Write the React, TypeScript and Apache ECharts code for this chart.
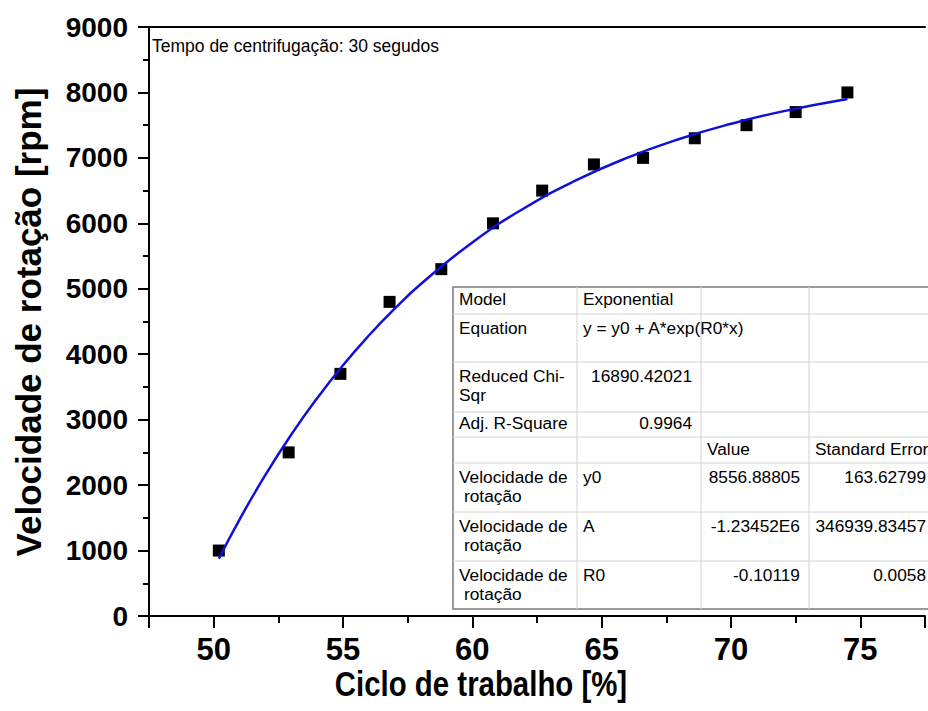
import React, { useEffect, useRef } from "react";
import * as echarts from "echarts";

// measured points
const dutyCycle = [50.2, 52.9, 54.9, 56.8, 58.8, 60.8, 62.7, 64.7, 66.6, 68.6, 70.6, 72.5, 74.5];
const speedRpm = [1000, 2500, 3700, 4800, 5300, 6000, 6500, 6900, 7000, 7300, 7500, 7700, 8000];

// fitted curve
const fitX = [50.2, 51, 52, 53, 54, 55, 56, 57, 58, 60, 62, 64, 66, 68, 70, 72, 74.5];
const fitY = [876, 1474, 2156, 2772, 3328, 3832, 4286, 4697, 5069, 5708, 6230, 6656, 7004, 7289, 7521, 7711, 7900];

// fit table
const tableCol1 = ["Model", "Equation", "Reduced Chi-\nSqr", "Adj. R-Square", "", "Velocidade de\n rotação", "Velocidade de\n rotação", "Velocidade de\n rotação"];
const tableCol2 = ["Exponential", "y = y0 + A*exp(R0*x)", "16890.42021", "0.9964", "", "y0", "A", "R0"];
const tableCol3 = ["", "", "", "", "Value", "8556.88805", "-1.23452E6", "-0.10119"];
const tableCol4 = ["", "", "", "", "Standard Error", "163.62799", "346939.83457", "0.0058"];

const titleText = "Tempo de centrifugação: 30 segudos";
const xName = "Ciclo de trabalho [%]";
const yName = "Velocidade de rotação [rpm]";

const FONT = "Arial, 'Liberation Sans', Helvetica, sans-serif";

function buildTable(): any[] {
  const rowsY = [287, 314, 362, 412, 437, 463, 512, 561, 609];
  const colsX = [453, 577, 701, 809, 935];
  const cols = [tableCol1, tableCol2, tableCol3, tableCol4];
  const els: any[] = [];
  els.push({
    type: "rect",
    shape: { x: colsX[0], y: rowsY[0], width: colsX[4] - colsX[0], height: rowsY[8] - rowsY[0] },
    style: { fill: "#fff", stroke: "#7a7a7a", lineWidth: 1.5 },
    z: 100,
  });
  for (let i = 1; i < rowsY.length - 1; i++) {
    els.push({
      type: "line",
      shape: { x1: colsX[0], y1: rowsY[i], x2: colsX[4], y2: rowsY[i] },
      style: { stroke: "#d4d4d4", lineWidth: 1 },
      z: 101,
    });
  }
  for (let j = 1; j < colsX.length - 1; j++) {
    els.push({
      type: "line",
      shape: { x1: colsX[j], y1: rowsY[0], x2: colsX[j], y2: rowsY[8] },
      style: { stroke: "#d4d4d4", lineWidth: 1 },
      z: 101,
    });
  }
  const numRe = /^-?[\d.]+(E\d+)?$/;
  for (let r = 0; r < rowsY.length - 1; r++) {
    const top = rowsY[r];
    const h = rowsY[r + 1] - top;
    const firstMid = h < 30 ? top + h / 2 - 1.5 : top + 13.5;
    for (let c = 0; c < 4; c++) {
      const txt = cols[c][r];
      if (!txt) continue;
      const right = numRe.test(txt);
      const lines = txt.split("\n");
      lines.forEach((ln, k) => {
        let x = right ? colsX[c + 1] - 9 : colsX[c] + 6;
        let s = ln;
        if (s.startsWith(" ")) {
          x += 5;
          s = s.trim();
        }
        els.push({
          type: "text",
          x,
          y: firstMid + k * 19.5,
          z: 102,
          style: {
            text: s,
            fill: "#000",
            font: `17.3px ${FONT}`,
            textAlign: right ? "right" : "left",
            textVerticalAlign: "middle",
          },
        });
      });
    }
  }
  return els;
}

export default function App() {
  const ref = useRef<HTMLDivElement>(null);
  useEffect(() => {
    if (!ref.current) return;
    const chart = echarts.init(ref.current, null, { renderer: "svg" });
    const scatterData = dutyCycle.map((x, i) => [x, speedRpm[i]]);
    const fitData = fitX.map((x, i) => [x, fitY[i]]);
    chart.setOption({
      animation: false,
      backgroundColor: "#fff",
      grid: { left: 149, top: 27, width: 792, height: 589, containLabel: false },
      xAxis: [
        {
          type: "value",
          min: 47.5,
          max: 77.5,
          splitNumber: 6,
          position: "bottom",
          axisLine: { show: true, onZero: false, lineStyle: { color: "#000", width: 2 } },
          axisTick: { show: true, inside: false, length: 12, lineStyle: { color: "#000", width: 2 } },
          minorTick: { show: true, splitNumber: 2, length: 7, lineStyle: { color: "#000", width: 2 } },
          axisLabel: {
            formatter: (v: number) => (Math.abs(v % 5) < 1e-9 ? String(v) : ""),
            margin: 18,
            fontSize: 31,
            fontWeight: "bold",
            color: "#000",
            fontFamily: FONT,
          },
          splitLine: { show: false },
        },
        {
          type: "value",
          min: 47.5,
          max: 77.5,
          position: "top",
          axisLine: { show: true, onZero: false, lineStyle: { color: "#000", width: 2 } },
          axisTick: { show: false },
          axisLabel: { show: false },
          splitLine: { show: false },
        },
      ],
      yAxis: {
        type: "value",
        min: 0,
        max: 9000,
        interval: 1000,
        axisLine: { show: true, onZero: false, lineStyle: { color: "#000", width: 2 } },
        axisTick: { show: true, inside: false, length: 11, lineStyle: { color: "#000", width: 2 } },
        minorTick: { show: true, splitNumber: 2, length: 6, lineStyle: { color: "#000", width: 2 } },
        axisLabel: {
          formatter: (v: number) => String(v),
          margin: 21,
          fontSize: 28,
          fontWeight: "bold",
          color: "#000",
          fontFamily: FONT,
        },
        splitLine: { show: false },
      },
      series: [
        {
          type: "scatter",
          data: scatterData,
          symbol: "rect",
          symbolSize: 12,
          itemStyle: { color: "#000", opacity: 1 },
          z: 2,
        },
        {
          type: "line",
          data: fitData,
          smooth: true,
          showSymbol: false,
          lineStyle: { color: "#1010d8", width: 2.5 },
          z: 3,
        },
      ],
      graphic: [
        {
          type: "text",
          x: 152,
          y: 46,
          style: { text: titleText, fill: "#000", font: `17.5px ${FONT}`, textVerticalAlign: "middle" },
          z: 50,
        },
        {
          type: "text",
          x: 481,
          y: 684,
          scaleX: 0.84,
          style: {
            text: xName,
            fill: "#000",
            font: `bold 35px ${FONT}`,
            textAlign: "center",
            textVerticalAlign: "middle",
          },
          z: 50,
        },
        {
          type: "text",
          x: 28,
          y: 322,
          rotation: Math.PI / 2,
          style: {
            text: yName,
            fill: "#000",
            font: `bold 35px ${FONT}`,
            textAlign: "center",
            textVerticalAlign: "middle",
          },
          z: 50,
        },
        ...buildTable(),
      ],
    });
    return () => chart.dispose();
  }, []);
  return <div ref={ref} style={{ width: 928, height: 711, position: "absolute", left: 0, top: 0 }} />;
}
